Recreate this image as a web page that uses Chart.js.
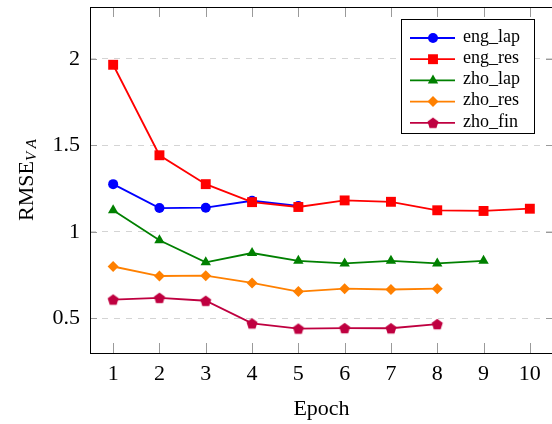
<!DOCTYPE html>
<html>
<head>
<meta charset="utf-8">
<script src="https://cdn.jsdelivr.net/npm/chart.js@4.4.0/dist/chart.umd.min.js"></script>
<style>
  html, body { margin: 0; padding: 0; background: #fff; overflow: hidden; }
  #wrap { width: 560px; height: 424px; }
</style>
</head>
<body>
<div id="wrap"><canvas id="chart"></canvas></div>
<script>
// data
const epochs = ["1", "2", "3", "4", "5", "6", "7", "8", "9", "10"];
const engLap = [1.276, 1.138, 1.140, 1.180, 1.150];
const engRes = [1.966, 1.443, 1.276, 1.172, 1.144, 1.182, 1.174, 1.125, 1.121, 1.134];
const zhoLap = [1.125, 0.952, 0.824, 0.878, 0.833, 0.818, 0.833, 0.818, 0.833];
const zhoRes = [0.800, 0.745, 0.747, 0.705, 0.655, 0.672, 0.667, 0.672];
const zhoFin = [0.609, 0.619, 0.602, 0.471, 0.441, 0.444, 0.443, 0.467];
const yTicks = [0.5, 1, 1.5, 2];

const SERIF = "'Liberation Serif', 'Times New Roman', serif";

// pentagon marker, chart.js has none
function pentagon(color, r) {
  const c = document.createElement("canvas");
  const s = Math.ceil(r * 2 + 2);
  c.width = s; c.height = s;
  const g = c.getContext("2d");
  g.fillStyle = color;
  g.beginPath();
  for (let k = 0; k < 5; k++) {
    const a = -Math.PI / 2 + k * 2 * Math.PI / 5;
    const px = s / 2 + r * Math.cos(a), py = s / 2 + 0.6 + r * Math.sin(a);
    k ? g.lineTo(px, py) : g.moveTo(px, py);
  }
  g.closePath();
  g.fill();
  return c;
}

const series = [
  { label: "eng_lap", data: engLap, color: "#0000ff", style: "circle", r: 5 },
  { label: "eng_res", data: engRes, color: "#ff0000", style: "rect", r: 7 },
  { label: "zho_lap", data: zhoLap, color: "#008000", style: "triangle", r: 6 },
  { label: "zho_res", data: zhoRes, color: "#ff8000", style: "rectRot", r: 5.5 },
  { label: "zho_fin", data: zhoFin, color: "#bf0040", style: pentagon("#bf0040", 5.8), r: 6 },
];

const frame = {
  id: "frame",
  beforeDatasetsDraw(chart) {
    const { ctx, chartArea: a, scales } = chart;
    ctx.save();
    ctx.strokeStyle = "#9a9a9a";
    ctx.lineWidth = 1;
    ctx.beginPath();
    epochs.forEach((e, i) => {
      const x = Math.round(scales.x.getPixelForValue(i)) + 0.5;
      ctx.moveTo(x, a.bottom); ctx.lineTo(x, a.bottom - 10);
      ctx.moveTo(x, a.top); ctx.lineTo(x, a.top + 10);
    });
    yTicks.forEach(v => {
      const y = Math.round(scales.y.getPixelForValue(v)) + 0.5;
      ctx.moveTo(a.left, y); ctx.lineTo(a.left + 7, y);
      ctx.moveTo(a.right, y); ctx.lineTo(a.right - 7, y);
    });
    ctx.stroke();
    ctx.strokeStyle = "#000";
    ctx.strokeRect(Math.round(a.left) + 0.5, Math.round(a.top) + 0.5,
      Math.round(a.right - a.left), Math.round(a.bottom - a.top));
    ctx.restore();
  },
  afterDraw(chart) {
    const { ctx, chartArea: a } = chart;
    ctx.save();
    // y title with subscript
    ctx.translate(27, (a.top + a.bottom) / 2);
    ctx.rotate(-Math.PI / 2);
    ctx.fillStyle = "#000";
    ctx.textBaseline = "middle";
    ctx.font = "22px " + SERIF;
    const w1 = ctx.measureText("RMSE").width;
    ctx.font = "italic 15px " + SERIF;
    const w2 = ctx.measureText("V A").width;
    const x0 = -(w1 + w2) / 2;
    ctx.font = "22px " + SERIF;
    ctx.textAlign = "left";
    ctx.fillText("RMSE", x0, 0);
    ctx.font = "italic 15px " + SERIF;
    ctx.fillText("V A", x0 + w1, 5);
    ctx.restore();

    // legend box
    ctx.save();
    const bx = 401, by = 19, bw = 133, bh = 114;
    ctx.fillStyle = "#fff";
    ctx.fillRect(bx, by, bw, bh);
    ctx.strokeStyle = "#000";
    ctx.lineWidth = 1;
    ctx.strokeRect(bx + 0.5, by + 0.5, bw, bh);
    chart.data.datasets.forEach((ds, i) => {
      const y = 38 + i * 21.2;
      ctx.strokeStyle = ds.borderColor;
      ctx.lineWidth = 1.8;
      ctx.beginPath();
      ctx.moveTo(410, y); ctx.lineTo(455, y);
      ctx.stroke();
      ctx.fillStyle = ds.borderColor;
      Chart.helpers.drawPoint(ctx, { pointStyle: ds.pointStyle, radius: ds.pointRadius, rotation: 0, borderWidth: 0 }, 433, y);
      ctx.fillStyle = "#000";
      ctx.font = "18px " + SERIF;
      ctx.textBaseline = "middle";
      ctx.textAlign = "left";
      ctx.fillText(ds.label, 463, y - 1);
    });
    ctx.restore();
  }
};

new Chart(document.getElementById("chart"), {
  type: "line",
  data: {
    labels: epochs,
    datasets: series.map((s, i) => ({
      label: s.label,
      data: s.data,
      borderColor: s.color,
      backgroundColor: s.color,
      pointBackgroundColor: s.color,
      pointBorderColor: s.color,
      pointBorderWidth: 0,
      pointStyle: s.style,
      pointRadius: s.r,
      borderWidth: 1.8,
      tension: 0,
      fill: false,
      order: series.length - i,
    })),
  },
  options: {
    responsive: true,
    maintainAspectRatio: false,
    animation: false,
    events: [],
    layout: { padding: { top: 4, right: 7, left: 0, bottom: 0 } },
    plugins: { legend: { display: false }, tooltip: { enabled: false } },
    scales: {
      x: {
        type: "category",
        offset: true,
        grid: { display: false, drawTicks: false },
        border: { display: false },
        ticks: { color: "#000", padding: 8, font: { family: SERIF, size: 22 } },
        title: { display: true, text: "Epoch", color: "#000", padding: { top: 0, bottom: 2 }, font: { family: SERIF, size: 22 } },
        afterFit(scale) {
          scale.height = 71;
          scale.paddingLeft = 0; scale.paddingRight = 0;
        },
      },
      y: {
        min: 0.3,
        max: 2.3,
        grid: { color: "#d4d4d4", lineWidth: 1, drawTicks: false },
        border: { display: false, dash: [6, 6] },
        ticks: {
          color: "#000",
          padding: 10,
          font: { family: SERIF, size: 22 },
          callback: v => String(v),
        },
        afterBuildTicks(scale) { scale.ticks = yTicks.map(v => ({ value: v })); },
        afterFit(scale) {
          scale.width = 90;
          scale.paddingTop = 0; scale.paddingBottom = 0;
        },
      },
    },
  },
  plugins: [frame],
});
</script>
</body>
</html>
